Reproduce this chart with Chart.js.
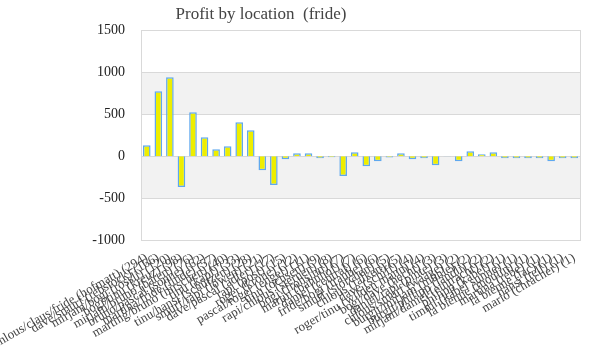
<!DOCTYPE html>
<html>
<head>
<meta charset="utf-8">
<script src="https://cdn.jsdelivr.net/npm/chart.js@4/dist/chart.umd.min.js"></script>
<style>
    html, body { margin: 0; padding: 0; background: #fff; }
    #wrap { width: 600px; height: 360px; }
</style>
</head>
<body>
<div id="wrap"><canvas id="profit-chart"></canvas></div>
<script>
// Standorte (Kategorien) und Gewinn pro Standort
const locations = [
    'chlous/claus/fride (hofmatt) (294)',
    'dave/smurf (rebstock) (166)',
    'mirjam/bogi (rössli) (120)',
    'bogi/tinu (kreuz) (98)',
    'mirjam/bruno (bären) (76)',
    'bruno/pascal (sonne) (62)',
    'martina/fride (linde) (57)',
    'marting/bruno (hirschen) (40)',
    'tinu (kapf) (33)',
    'tinu/hansi (schützen) (28)',
    'smurf/rapi (löwen) (21)',
    'dave/pascal (adler) (17)',
    'rapi (post) (15)',
    'roger (krone) (12)',
    'pascal/roger (engel) (11)',
    'tinu (ochsen) (9)',
    'rapi/chlous (sternen) (8)',
    'bogi (frohsinn) (7)',
    'martin (bahnhof) (7)',
    'daniel (central) (6)',
    'fride/bogi (traube) (6)',
    'smurf (storchen) (5)',
    'chlous (falken) (5)',
    'dave (schiff) (4)',
    'roger/tinu (wilden mann) (4)',
    'bogi/dave (hecht) (3)',
    'daniel/rapi (pinte) (3)',
    'chlous/smurf (waage) (2)',
    'burgit/mirjam (mühle) (2)',
    'burgit/philipp (ländli) (2)',
    'mirjam/daniel (eintracht) (2)',
    'philipp (kabel) (1)',
    'timmi (kabel sunne) (1)',
    'la bienne (moulin) (1)',
    'martina (rebe) (1)',
    'la bienne (lac) (1)',
    'hansi (tell) (1)',
    'mario (chracher) (1)',
];
const profit = [
    131, 774, 941, -369, 524, 226, 83, 119, 405, 310,
    -167, -345, -36, 36, 36, -24, -12, -238, 48, -119,
    -60, -16, 36, -36, -24, -107, -4, -60, 60, 24,
    48, -24, -24, -24, -24, -60, -24, -24,
];
const yTicks = [1500, 1000, 500, 0, -500, -1000];

const serif = "'Liberation Serif', 'DejaVu Serif', serif";

// Hintergrundbänder und Rahmen des Diagrammbereichs
const plotFrame = {
    id: 'plotFrame',
    afterLayout(chart) {
        // Titel etwas links von der Mitte platzieren
        const t = chart.titleBlock;
        if (t) { t.left = 0; t.right = 522; t.width = 522; }
    },
    beforeDatasetsDraw(chart) {
        const { ctx, chartArea: a, scales: { y } } = chart;
        ctx.save();
        ctx.fillStyle = '#f2f2f2';
        [[1000, 500], [0, -500]].forEach(([hi, lo]) => {
            const top = y.getPixelForValue(hi);
            const bot = y.getPixelForValue(lo);
            ctx.fillRect(a.left, top, a.right - a.left, bot - top);
        });
        ctx.strokeStyle = '#d9d9d9';
        ctx.lineWidth = 1;
        yTicks.forEach((v) => {
            const py = Math.round(y.getPixelForValue(v)) + 0.5;
            ctx.beginPath();
            ctx.moveTo(a.left, py);
            ctx.lineTo(a.right, py);
            ctx.stroke();
        });
        ctx.strokeRect(Math.round(a.left) + 0.5, Math.round(a.top) + 0.5,
            Math.round(a.right - a.left), Math.round(a.bottom - a.top));
        ctx.restore();
    },
};

new Chart(document.getElementById('profit-chart'), {
    type: 'bar',
    data: {
        labels: locations,
        datasets: [{
            label: 'Profit',
            data: profit,
            backgroundColor: '#eeee00',
            borderColor: '#5fa8ef',
            borderWidth: 1.5,
            barPercentage: 0.66,
            categoryPercentage: 1,
        }],
    },
    options: {
        responsive: true,
        maintainAspectRatio: false,
        animation: false,
        layout: { padding: { left: 0, right: 20, top: 0, bottom: 0 } },
        plugins: {
            legend: { display: false },
            tooltip: { enabled: false },
            title: {
                display: true,
                text: 'Profit by location  (fride)',
                color: '#444',
                font: { family: serif, size: 17, weight: 'normal' },
                padding: { top: 4, bottom: 6 },
            },
        },
        scales: {
            x: {
                grid: { display: false },
                border: { display: false },
                ticks: {
                    autoSkip: false,
                    maxRotation: 30,
                    minRotation: 30,
                    color: '#444',
                    padding: 2,
                    font: { family: serif, size: 13 },
                },
                afterFit: (scale) => {
                    scale.height = 120;
                    scale.paddingLeft = 0;
                    scale.paddingRight = 0;
                },
            },
            y: {
                min: -1000,
                max: 1500,
                grid: { display: false },
                border: { display: false },
                afterBuildTicks: (scale) => {
                    scale.ticks = yTicks.map((v) => ({ value: v }));
                },
                ticks: {
                    color: '#222',
                    padding: 8,
                    font: { family: serif, size: 14 },
                    callback: (value) => String(value),
                },
                afterFit: (scale) => { scale.width = 141; },
            },
        },
    },
    plugins: [plotFrame],
});
</script>
</body>
</html>
